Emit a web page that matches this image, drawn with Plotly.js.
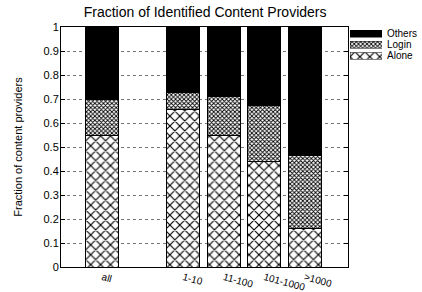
<!DOCTYPE html>
<html><head><meta charset="utf-8">
<script src="https://cdn.plot.ly/plotly-3.0.1.min.js"></script>
<style>html,body{margin:0;padding:0;background:#fff}#chart{width:422px;height:292px}</style>
</head><body><div id="chart"></div>
<script>
const positions = [0, 2, 3, 4, 5];
const categories = ["all", "1-10", "11-100", "101-1000", ">1000"];
const alone = [0.55, 0.657, 0.546, 0.44, 0.16];
const login = [0.15, 0.07, 0.164, 0.235, 0.305];
const others = [0.30, 0.273, 0.29, 0.325, 0.535];
const yTicks = [0, 0.1, 0.2, 0.3, 0.4, 0.5, 0.6, 0.7, 0.8, 0.9, 1];
const yTickText = ["0", "0.1", "0.2", "0.3", "0.4", "0.5", "0.6", "0.7", "0.8", "0.9", "1"];
const legendNames = ["Alone", "Login", "Others"];
const legendRows = [0, 1, 2];

const line = {color: "#000", width: 1};
const alonePattern = {shape: "x", fgcolor: "#000", bgcolor: "#fff", size: 7, solidity: 0.3};
const loginPattern = {shape: "x", fgcolor: "#000", bgcolor: "#fff", size: 3, solidity: 0.5};
const styles = [
  {color: "#fff", line: line, pattern: alonePattern},
  {color: "#fff", line: line, pattern: loginPattern},
  {color: "#000", line: line}
];
const series = [alone, login, others];

const traces = series.map((vals, i) => ({
  type: "bar", name: legendNames[i], x: positions, y: vals, width: 0.82,
  marker: styles[i], showlegend: false, xaxis: "x", yaxis: "y"
}));
// legend swatches drawn as small horizontal bars on a separate axis pair
legendNames.forEach((n, i) => {
  traces.push({type: "bar", orientation: "h", name: n, x: [1], y: [legendRows[i]], width: 0.62,
    marker: {color: styles[i].color, line: {color: "#000", width: 0.5}, pattern: styles[i].pattern},
    showlegend: false, xaxis: "x2", yaxis: "y2"});
});

const annotations = legendNames.map((n, i) => ({
  text: n, xref: "paper", yref: "y2", x: 0.913, y: legendRows[i], xanchor: "left", yanchor: "middle",
  showarrow: false, font: {size: 10}, borderpad: 0
}));

const layout = {
  width: 422, height: 292,
  margin: {l: 61, r: 5, t: 27, b: 25, autoexpand: false},
  barmode: "stack",
  paper_bgcolor: "#fff", plot_bgcolor: "#fff",
  font: {family: "Liberation Sans, Arial, sans-serif", size: 11, color: "#000"},
  title: {text: "Fraction of Identified Content Providers", x: 0.486, xanchor: "center", y: 0.958, yanchor: "middle", font: {size: 14}},
  xaxis: {domain: [0, 0.8053], range: [-1.02, 6.06], tickmode: "array", tickvals: positions, ticktext: categories, tickangle: 15,
          showgrid: false, zeroline: false, showline: true, linecolor: "#000", mirror: true, ticks: "",
          tickfont: {size: 10}, automargin: false},
  yaxis: {domain: [0, 1], range: [0, 1], tickmode: "array", tickvals: yTicks, ticktext: yTickText,
          showgrid: true, gridcolor: "#777", griddash: "dot", gridwidth: 1, zeroline: false,
          showline: true, linecolor: "#000", mirror: "ticks", ticks: "inside", ticklen: 4, tickcolor: "#000",
          tickfont: {size: 11}, automargin: false, ticklabelstandoff: -1,
          title: {text: "Fraction of content providers", font: {size: 11}, standoff: 18}},
  xaxis2: {domain: [0.8118, 0.9017], range: [0, 1], visible: false, anchor: "y2", fixedrange: true},
  yaxis2: {domain: [0.8625, 1.0], range: [-0.4, 2.6], visible: false, anchor: "x2", fixedrange: true},
  annotations: annotations,
  showlegend: false
};
Plotly.newPlot("chart", traces, layout, {staticPlot: true, displayModeBar: false});
</script></body></html>
